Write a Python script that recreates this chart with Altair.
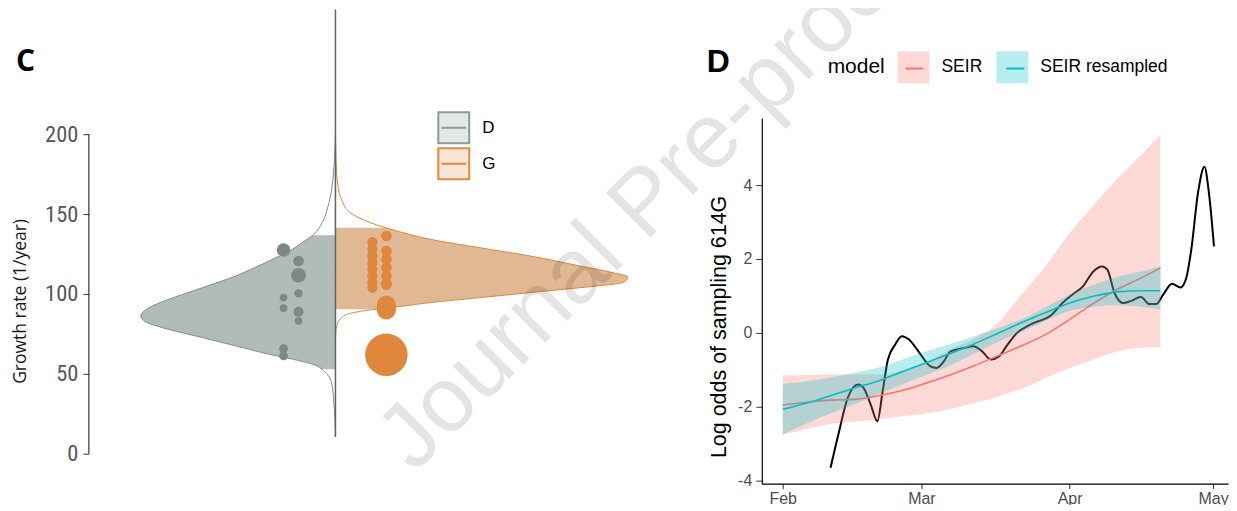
import json
import altair as alt
import pandas as pd

# ---------------- Panel C : growth rate violins ----------------
grp_names = ["D", "G"]

d_out_val = [10.6, 20, 33, 44.6, 50.8, 56.1, 59.2, 62.3, 67.5, 72.7, 78.9, 82.5, 86.25, 91.4, 96.7,
             103.9, 111.25, 116.7, 120.6, 127.9, 132.1, 137.3, 144.6, 152.9, 161.25, 175, 194, 200]
d_out_dens = [0, 0.5, 1.7, 4, 10, 23.3, 43.3, 66.7, 100, 133.3, 173.3, 190, 195, 186.7, 166.7,
              133.3, 100, 80, 66.7, 43.3, 33.3, 21.7, 13.3, 8.3, 5, 2, 0.3, 0]
d_fill_val = [52.9, 56.1, 59.2, 62.3, 67.5, 72.7, 78.9, 82.5, 86.25, 91.4, 96.7, 103.9, 111.25,
              116.7, 120.6, 127.9, 132.1, 136.7]
d_fill_dens = [15, 23.3, 43.3, 66.7, 100, 133.3, 173.3, 190, 195, 186.7, 166.7, 133.3, 100,
               80, 66.7, 43.3, 33.3, 23]

g_out_val = [69, 76.9, 80, 83.1, 87.3, 89.4, 91.9, 94.6, 97.7, 101.9, 105, 107.1, 110.6, 113.3,
             117.5, 123.75, 128.9, 134.2, 139.4, 144.6, 150.8, 158.1, 168.6, 176.9, 190, 200]
g_out_dens = [0, 0.4, 1.5, 3.3, 11.7, 28, 61.7, 95, 145, 212, 262, 288, 293, 278,
              245, 195, 145, 95, 61.7, 35, 15, 6.7, 2.3, 1, 0.3, 0]
g_fill_val = [90.4, 91.9, 94.6, 97.7, 101.9, 105, 107.1, 110.6, 113.3, 117.5, 123.75, 128.9,
              134.2, 139.4, 141.4]
g_fill_dens = [41, 61.7, 95, 145, 212, 262, 288, 293, 278, 245, 195, 145, 95, 61.7, 50]

center_span = [10.6, 278.0]
growth_ticks = [0, 50, 100, 150, 200]

d_pt_val = [127.5, 120.6, 111.7, 100.4, 97.7, 91.1, 88.75, 83.1, 65.8, 61.25]
d_pt_jit = [-52, -37, -37, -37, -52, -52, -37, -37, -52, -52]
d_pt_n = [3.2, 1.95, 3.73, 1.19, 1.0, 1.0, 1.76, 1.0, 1.35, 1.35]

g_pt_val = [132.5, 128.0, 123.8, 119.6, 115.4, 111.3, 107.1, 104.0,
            136.25, 126.9, 121.7, 116.5, 111.25, 106.0, 93.0, 90.1, 61.9]
g_pt_jit = [37, 37, 37, 37, 37, 37, 37, 37,
            51, 51, 51, 51, 51, 51, 51, 51, 51]
g_pt_n = [1.82, 1.82, 1.82, 1.82, 1.82, 1.82, 1.82, 1.82,
          1.95, 1.95, 1.95, 1.95, 1.95, 2.29, 6.5, 6.5, 31.2]

# ---------------- Panel D : log odds over time ----------------
month_days = [0, 29, 60, 90]
month_labels = ["Feb", "Mar", "Apr", "May"]
logodds_ticks = [-4, -2, 0, 2, 4]
models = ["SEIR", "SEIR resampled"]

obs_day = [10.0, 11.8, 13.6, 15.8, 16.9, 18.4, 19.8, 20.9, 22.0, 23.5, 24.9, 26.4, 28.6, 30.8,
           32.2, 33.7, 35.1, 38.0, 39.9, 41.7, 43.5, 45.3, 46.8, 49.0, 51.9, 56.3, 58.5, 60.6,
           62.8, 65.0, 66.8, 67.9, 69.4, 71.2, 72.7, 74.9, 76.7, 78.1, 79.6, 81.4, 83.2, 84.3,
           85.4, 86.9, 88.2, 89.1, 90.2]
obs_val = [-3.65, -2.66, -1.76, -1.40, -1.49, -1.94, -2.39, -1.58, -0.72, -0.32, -0.09, -0.18,
           -0.54, -0.90, -0.95, -0.77, -0.50, -0.41, -0.36, -0.50, -0.72, -0.63, -0.36, 0.0, 0.23,
           0.50, 0.81, 1.04, 1.26, 1.67, 1.80, 1.71, 1.08, 0.81, 0.86, 0.97, 0.78, 0.78, 1.04,
           1.33, 1.23, 1.44, 2.21, 3.83, 4.50, 3.83, 2.34]

band_day = [0, 5, 10, 15, 20, 25, 30, 35, 40, 45, 50, 55, 60, 65, 70, 75, 79]
seir_mid = [-1.95, -1.88, -1.82, -1.80, -1.70, -1.56, -1.36, -1.14, -0.89, -0.62, -0.35, -0.04,
            0.36, 0.80, 1.18, 1.49, 1.76]
seir_lo = [-2.75, -2.60, -2.47, -2.40, -2.34, -2.26, -2.18, -2.06, -1.90, -1.72, -1.51, -1.22,
           -0.95, -0.72, -0.50, -0.40, -0.39]
seir_hi = [-1.15, -1.14, -1.13, -1.13, -1.13, -1.02, -0.79, -0.45, -0.15, 0.27, 1.05, 1.82,
           2.70, 3.45, 4.17, 4.82, 5.36]
res_mid = [-2.07, -1.90, -1.70, -1.49, -1.30, -1.05, -0.81, -0.56, -0.30, -0.01, 0.28, 0.55,
           0.81, 0.99, 1.11, 1.14, 1.14]
res_lo = [-2.75, -2.45, -2.18, -1.93, -1.66, -1.40, -1.14, -0.88, -0.57, -0.25, 0.03, 0.33,
          0.59, 0.71, 0.75, 0.71, 0.63]
res_hi = [-1.38, -1.31, -1.21, -1.08, -0.94, -0.72, -0.50, -0.30, -0.09, 0.13, 0.37, 0.70,
          1.04, 1.30, 1.52, 1.67, 1.80]

# ---------------- styling constants ----------------
WC, WD, H, GAP = 552, 467, 366, 122
D_FILL, D_LINE, D_PT = "#b1bbb7", "#7d8e87", "#7a8b84"
G_FILL, G_LINE, G_PT = "#e0b893", "#e08636", "#df873b"
CENTER = "#5c6863"
RED, CYAN = "#F8766D", "#00BFC4"
BOX_PATH = "M-1,-1H1V1H-1ZM-0.8,0H0.8"
LINE_PATH = "M-0.56,0H0.56"

one = pd.DataFrame({"k": [0]})

# ---------------- Panel C build ----------------
XC = alt.Scale(domain=[-247, 305], nice=False, zero=False)
YC = alt.Scale(domain=[-18.75, 210], nice=False, zero=False)
axC = alt.Axis(values=growth_ticks, domain=False, grid=False, title="Growth rate (1/year)",
               titleFont="Open Sans", titleFontSize=17.5, titleFontWeight="normal",
               titleColor="#1a1a1a", titlePadding=15,
               labelFont="Liberation Sans Narrow, Roboto Condensed, Roboto", labelFontSize=22.5,
               labelColor="#555555", labelPadding=5, tickSize=6, tickColor="#333333",
               tickWidth=1, labelFlush=False)


def xC(f):
    return alt.X(f, type="quantitative", scale=XC, axis=None)


def yC(f):
    return alt.Y(f, type="quantitative", scale=YC, axis=axC)


d_out = pd.DataFrame({"v": d_out_val, "x": [-w for w in d_out_dens]})
d_fill = pd.DataFrame({"v": d_fill_val, "x": [-w for w in d_fill_dens]})
g_out = pd.DataFrame({"v": g_out_val, "x": g_out_dens})
g_fill = pd.DataFrame({"v": g_fill_val, "x": g_fill_dens})
center_df = pd.DataFrame({"x": [0], "y0": [center_span[0]], "y1": [center_span[1]]})
axis_df = pd.DataFrame({"y0": [min(growth_ticks)], "y1": [max(growth_ticks)]})
d_pts = pd.DataFrame({"v": d_pt_val, "x": d_pt_jit, "n": d_pt_n})
g_pts = pd.DataFrame({"v": g_pt_val, "x": g_pt_jit, "n": g_pt_n})
leg_df = pd.DataFrame({"grp": grp_names})

SZ = alt.Scale(domain=[0, 31.2], range=[0, 1810])


def violin_fill(df, color):
    return alt.Chart(df).mark_area(orient="horizontal", interpolate="monotone", color=color,
                                   opacity=1).encode(x=xC("x"), x2=alt.datum(0), y=yC("v"))


def violin_line(df, color):
    return alt.Chart(df).mark_area(orient="horizontal", interpolate="monotone", fillOpacity=0,
                                   stroke=color, strokeWidth=1).encode(
        x=xC("x"), x2=alt.datum(0), y=yC("v"))


def points(df, color):
    return alt.Chart(df).mark_circle(color=color, opacity=1).encode(
        x=xC("x"), y=yC("v"), size=alt.Size("n:Q", scale=SZ, legend=None))


legC = alt.Legend(title=None, orient="none", legendX=349, legendY=-7, direction="vertical",
                  symbolType=BOX_PATH, symbolSize=961, symbolStrokeWidth=2,
                  labelFont="Liberation Sans", labelFontSize=17, labelColor="black",
                  labelOffset=12, rowPadding=-4, padding=0)

legend_c = alt.Chart(leg_df).mark_point(opacity=1, filled=True).encode(
    fill=alt.Fill("grp:N", scale=alt.Scale(domain=grp_names, range=["#e3e8e6", "#fae6d6"]),
                  legend=legC),
    stroke=alt.Stroke("grp:N", scale=alt.Scale(domain=grp_names, range=["#8c9b95", "#e3883a"]),
                      legend=legC),
).transform_filter("false")

center_rule = alt.Chart(center_df).mark_rule(color=CENTER, strokeWidth=1.5).encode(
    x=xC("x"), y=yC("y0"), y2="y1")
axis_rule = alt.Chart(axis_df).mark_rule(color="#222222", strokeWidth=1.1).encode(
    x=alt.value(0), y=yC("y0"), y2="y1")

watermark = alt.Chart(one).mark_text(
    text="Journal Pre-proof", angle=315, font="Liberation Sans", fontSize=92, color="black",
    opacity=0.1, align="left", baseline="alphabetic").encode(x=alt.value(326), y=alt.value(356))
label_c = alt.Chart(one).mark_text(
    text="C", font="Open Sans", fontSize=30, fontWeight="bold", color="black", align="left",
    baseline="alphabetic").encode(x=alt.value(-73), y=alt.value(-47))
marker_c = alt.Chart(one).mark_rule(opacity=0).encode(
    x=alt.value(-200), x2=alt.value(-199), y=alt.value(-300))

panel_c = alt.layer(
    violin_fill(d_fill, D_FILL), violin_line(d_out, D_LINE),
    violin_fill(g_fill, G_FILL), violin_line(g_out, G_LINE),
    center_rule, points(d_pts, D_PT), points(g_pts, G_PT), axis_rule, legend_c,
    label_c, watermark, marker_c,
).properties(width=WC, height=H)

# ---------------- Panel D build ----------------
XD = alt.Scale(domain=[-4.385, 93.13], nice=False, zero=False)
YD = alt.Scale(domain=[-4.081, 5.811], nice=False, zero=False)
month_expr = "{}[indexof({}, datum.value)]".format(json.dumps(month_labels), json.dumps(month_days))
axDx = alt.Axis(values=month_days, labelExpr=month_expr, title=None, grid=False,
                labelFont="Liberation Sans", labelFontSize=16, labelColor="#4d4d4d",
                labelPadding=2, tickSize=5, tickColor="#333333", domainColor="black",
                domainWidth=1.2, labelFlush=False)
axDy = alt.Axis(values=logodds_ticks, labelExpr="'' + datum.value", grid=False,
                title="Log odds of sampling 614G", titleFont="Liberation Sans",
                titleFontSize=21.5, titleFontWeight="normal", titleColor="black",
                titlePadding=7, titleY=208.5, labelFont="Liberation Sans", labelFontSize=16,
                labelColor="#4d4d4d", labelPadding=4, tickSize=6, tickColor="#333333",
                domainColor="black", domainWidth=1.2, labelFlush=False)


def xD(f):
    return alt.X(f, type="quantitative", scale=XD, axis=axDx)


def yD(f):
    return alt.Y(f, type="quantitative", scale=YD, axis=axDy)


obs_df = pd.DataFrame({"day": obs_day, "val": obs_val})
bands = pd.concat([
    pd.DataFrame({"day": band_day, "mid": seir_mid, "lo": seir_lo, "hi": seir_hi, "model": models[0]}),
    pd.DataFrame({"day": band_day, "mid": res_mid, "lo": res_lo, "hi": res_hi, "model": models[1]}),
], ignore_index=True)

common_leg = dict(title="model", orient="none", legendX=66, legendY=-67, direction="horizontal",
                  titleOrient="left", titleFont="Liberation Sans", titleFontSize=21,
                  titleFontWeight="normal", titleColor="black", titlePadding=12,
                  titleBaseline="middle", labelFont="Liberation Sans", labelFontSize=17.5,
                  labelColor="black", labelOffset=12, columnPadding=14, symbolSize=1024,
                  padding=0)
legFill = alt.Legend(symbolType="square", symbolStrokeWidth=0, symbolOpacity=0.28, **common_leg)
legStroke = alt.Legend(symbolType=LINE_PATH, symbolStrokeWidth=2, labelOpacity=0,
                       titleOpacity=0, **common_leg)

fill_scale = alt.Scale(domain=models, range=[RED, CYAN])
stroke_scale = alt.Scale(range=[RED, CYAN])


def ribbon(name):
    return alt.Chart(bands).transform_filter(alt.datum.model == name).mark_area(
        opacity=0.28, interpolate="monotone").encode(
        x=xD("day"), y=yD("lo"), y2="hi",
        fill=alt.Fill("model:N", scale=fill_scale, legend=legFill))


def midline(name):
    return alt.Chart(bands).transform_filter(alt.datum.model == name).mark_line(
        strokeWidth=1.6, interpolate="monotone").encode(
        x=xD("day"), y=yD("mid"),
        stroke=alt.Stroke("model:N", scale=stroke_scale, legend=legStroke))


obs_line = alt.Chart(obs_df).mark_line(color="black", strokeWidth=2, interpolate="monotone").encode(
    x=xD("day"), y=yD("val"))
label_d = alt.Chart(one).mark_text(
    text="D", font="Liberation Sans", fontSize=32, fontWeight="bold", color="black", align="left",
    baseline="alphabetic").encode(x=alt.value(-55), y=alt.value(-46))
marker_d = alt.Chart(one).mark_rule(opacity=0).encode(
    x=alt.value(WD + 100), x2=alt.value(WD + 101), y=alt.value(H + 150))

panel_d = alt.layer(
    obs_line, ribbon(models[0]), midline(models[0]), ribbon(models[1]), midline(models[1]),
    label_d, marker_d,
).properties(width=WD, height=H)

chart = alt.hconcat(panel_c, panel_d, spacing=GAP, bounds="flush").resolve_scale(
    fill="independent", stroke="independent", size="independent"
).resolve_legend(fill="independent", stroke="independent").properties(
    padding={"left": -120, "top": -191, "right": -101, "bottom": -130},
    autosize=alt.AutoSizeParams(type="pad"),
).configure_view(stroke="transparent")

chart.save("out.html", embed_options={"renderer": "svg", "actions": False})
